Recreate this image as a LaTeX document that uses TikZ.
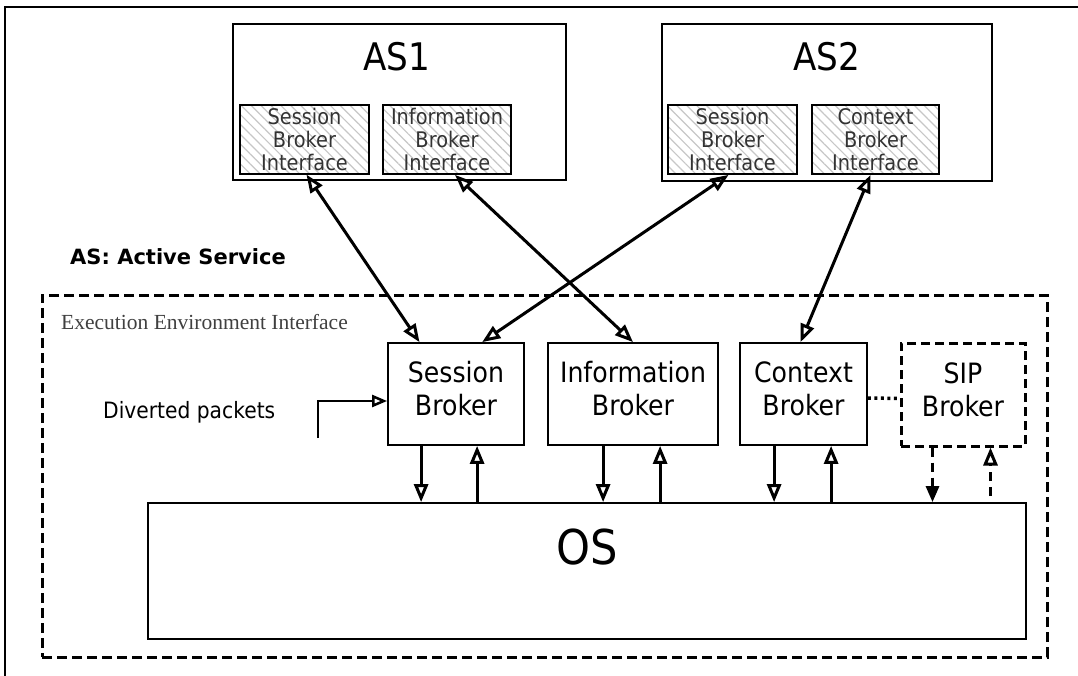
\documentclass[tikz,border=0pt]{standalone}
\usepackage{fontspec}
\newfontfamily\tah[FakeStretch=0.9]{DejaVu Sans}
\newfontfamily\tahw{DejaVu Sans}
\newfontfamily\tms{Liberation Serif}
\usetikzlibrary{arrows.meta,patterns.meta,calc}
\begin{document}
\begin{tikzpicture}[x=1pt,y=-1pt,
  asbox/.style={draw, line width=2pt, inner sep=0pt},
  iface/.style={draw, line width=1.8pt, inner sep=0pt, align=center,
    pattern={Lines[angle=-45,distance=7pt,line width=1.2pt]}, pattern color=black!22,
    font=\tah\fontsize{21.5}{23}\selectfont, text=black!80},
  broker/.style={draw, line width=1.8pt, inner sep=0pt},
  brtext/.style={inner sep=0pt, align=center, font=\tah\fontsize{28}{33}\selectfont},
  eebox/.style={draw, line width=3pt, dash pattern=on 10pt off 5pt, inner sep=0pt},
  sipbox/.style={broker, line width=3pt, dash pattern=on 9pt off 5pt},
  osbox/.style={draw, line width=1.8pt, inner sep=0pt},
  arr/.style={line width=3pt, -{Triangle[open,length=18pt,width=14pt]}},
  darr/.style={line width=3pt, {Triangle[open,length=18pt,width=14pt]}-{Triangle[open,length=18pt,width=14pt]}},
  farr/.style={line width=3pt, -{Triangle[length=16pt,width=13pt]}},
  dsh/.style={dash pattern=on 9pt off 6pt},
  title/.style={font=\tah\fontsize{38}{40}\selectfont, inner sep=0pt},
]
\useasboundingbox (0,0) rectangle (1078,676);
\fill[white] (0,0) rectangle (1078,676);
% outer frame
\draw[line width=2pt] (5,676) -- (5,7) -- (1078,7);

% AS boxes
\node[asbox, minimum width=333pt, minimum height=156pt] (as1) at (399.5,102) {};
\node[asbox, minimum width=330pt, minimum height=157pt] (as2) at (827,102.5) {};
\node[title] (as1t) at (397,57) {AS1};
\node[title] (as2t) at (827,57) {AS2};

\node[iface, minimum width=129pt, minimum height=69pt] (sbi1) at (304.5,139.5) {Session\\Broker\\Interface};
\node[iface, minimum width=128pt, minimum height=69pt] (ibi) at (447,139.5) {Information\\Broker\\Interface};
\node[iface, minimum width=129pt, minimum height=69pt] (sbi2) at (732.5,139.5) {Session\\Broker\\Interface};
\node[iface, minimum width=127pt, minimum height=69pt] (cbi) at (875.5,139.5) {Context\\Broker\\Interface};

\node[anchor=west, inner sep=0pt, font=\tahw\bfseries\fontsize{21}{24}\selectfont] (asdef) at (70,257) {AS: Active Service};

% execution environment
\node[eebox, minimum width=1005pt, minimum height=362pt] (ee) at (544.5,476) {};
\node[anchor=west, inner sep=0pt, font=\tms\fontsize{21.5}{24}\selectfont, text=black!75] (eet) at (61,322) {Execution Environment Interface};

\node[broker, minimum width=136pt, minimum height=102pt] (sb) at (456,394) {};
\node[broker, minimum width=170pt, minimum height=102pt] (ib) at (633,394) {};
\node[broker, minimum width=127pt, minimum height=102pt] (cb) at (803.5,394) {};
\node[sipbox, minimum width=124pt, minimum height=103pt] (sip) at (963,394.5) {};
\node[brtext] (sbt) at ($(sb.center)+(0,-5)$) {Session\\Broker};
\node[brtext] (ibt) at ($(ib.center)+(0,-5)$) {Information\\Broker};
\node[brtext] (cbt) at ($(cb.center)+(0,-5)$) {Context\\Broker};
\node[brtext] (sipt) at ($(sip.center)+(0,-5)$) {SIP\\Broker};

\node[osbox, minimum width=878pt, minimum height=136pt] (os) at (587,571) {};
\node[inner sep=0pt, font=\tah\fontsize{48}{50}\selectfont] (ost) at (587,547) {OS};

\node[anchor=west, inner sep=0pt, font=\tah\fontsize{22.5}{24}\selectfont] (dpt) at (103,412) {Diverted packets};
\coordinate (dp) at (318,438);

% diverted packets arrow
\draw[line width=2.5pt, -{Triangle[open,length=15pt,width=12pt]}] (dp) |- ([yshift=-7pt]sb.west);

% AS <-> broker arrows
\draw[darr] ([xshift=2pt]sbi1.south) -- ($(sb.north west)!0.235!(sb.north east)$);
\draw[darr] ([xshift=8pt]ibi.south) -- (ib.north);
\draw[darr] ([xshift=-4pt]sbi2.south) -- ($(sb.north west)!0.69!(sb.north east)$);
\draw[darr] ([xshift=-5pt]cbi.south) -- ([xshift=-3pt]cb.north);

% broker <-> OS arrows
\draw[arr] ([xshift=34pt]sb.south west) -- ([xshift=34pt]sb.south west |- os.north);
\draw[arr] ([xshift=90pt]sb.south west |- os.north) -- ([xshift=90pt]sb.south west);
\draw[arr] ([xshift=56pt]ib.south west) -- ([xshift=56pt]ib.south west |- os.north);
\draw[arr] ([xshift=113pt]ib.south west |- os.north) -- ([xshift=113pt]ib.south west);
\draw[arr] ([xshift=35pt]cb.south west) -- ([xshift=35pt]cb.south west |- os.north);
\draw[arr] ([xshift=92pt]cb.south west |- os.north) -- ([xshift=92pt]cb.south west);
\draw[farr, dsh] ([xshift=33pt]sip.south west) -- ([xshift=33pt]sip.south west |- os.north);
\draw[arr, dsh] ([xshift=91pt,yshift=6pt]sip.south west |- os.north) -- ([xshift=91pt]sip.south west);

% dotted link context - SIP
\draw[line width=3.5pt, dash pattern=on 3pt off 3.5pt] ([yshift=-4pt]cb.east) -- ([yshift=-4pt]sip.west);
\end{tikzpicture}
\end{document}
